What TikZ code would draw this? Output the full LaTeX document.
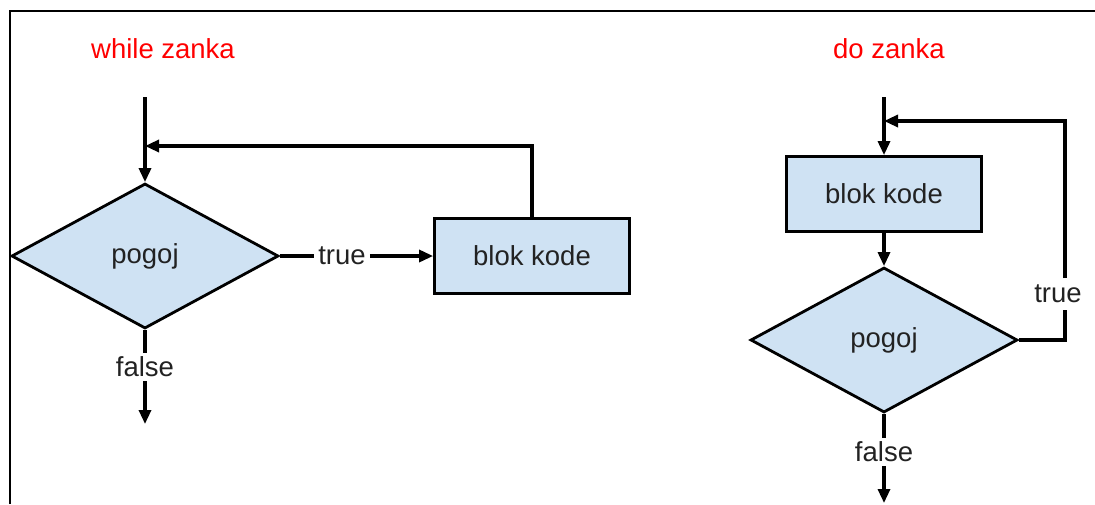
\documentclass[tikz,border=0pt]{standalone}
\usepackage{fontspec}
\setmainfont{Liberation Sans}
\usetikzlibrary{shapes.geometric,arrows.meta}
\definecolor{boxfill}{HTML}{CFE2F3}
\definecolor{titlered}{HTML}{FF0000}
\definecolor{txt}{HTML}{222222}
\begin{document}
\begin{tikzpicture}[x=1pt,y=1pt,
  every node/.style={font=\fontsize{27.5}{31}\selectfont, text=txt},
  lw/.style={line width=2.8pt, draw=black},
  dia/.style={diamond, lw, fill=boxfill, inner sep=0pt, minimum width=267pt, minimum height=145pt},
  codebox/.style={rectangle, lw, fill=boxfill, minimum width=195pt, minimum height=75pt, inner sep=0pt},
  ttl/.style={text=titlered},
  lbl/.style={inner sep=4pt},
  conn/.style={line width=3.2pt, draw=black},
  arr/.style={conn, -{Triangle[length=14pt,width=12pt]}}
]
\useasboundingbox (0,0) rectangle (1095,-504);
% frame
\coordinate (fa) at (10,-504);
\coordinate (fb) at (10,-11);
\coordinate (fc) at (1095,-11);
\draw[line width=2.4pt] (fa) -- (fb) -- (fc);

% while loop
\node[ttl] (t1) at (163,-49) {while zanka};
\coordinate (s1) at (145,-97);
\coordinate (j1) at (145,-146);
\node[dia] (d1) at (145,-256) {\raisebox{-2pt}{pogoj}};
\node[codebox] (b1) at (532,-256) {blok kode};
\node[lbl] (tr1) at (342,-256) {true};
\node[lbl] (f1) at (145,-367) {false};
\coordinate (e1) at (145,-424);
\draw[arr] (s1) -- (d1.north);
\draw[arr] (b1.north) |- (j1);
\draw[conn] (d1.east) -- (d1.east -| tr1.west);
\draw[arr] (tr1.east |- b1.west) -- (b1.west);
\draw[conn] (d1.south) -- (f1.north);
\draw[arr] (f1.south) -- (e1);

% do loop
\node[ttl] (t2) at (889,-49) {do zanka};
\coordinate (s2) at (884,-97);
\coordinate (j2) at (884,-121);
\node[codebox] (b2) at (884,-194) {blok kode};
\node[dia] (d2) at (884,-340) {\raisebox{-2pt}{pogoj}};
\coordinate (k2) at (1065,-310);
\coordinate (k3) at (1065,-278);
\node[lbl] (tr2) at (1058,-294) {true};
\node[lbl] (f2) at (884,-452) {false};
\coordinate (e2) at (884,-503);
\draw[arr] (s2) -- (b2.north);
\draw[arr] (b2.south) -- (d2.north);
\draw[conn] (d2.east) -| (k2);
\draw[arr] (k3) |- (j2);
\draw[conn] (d2.south) -- (f2.north);
\draw[arr] (f2.south) -- (e2);
\end{tikzpicture}
\end{document}
